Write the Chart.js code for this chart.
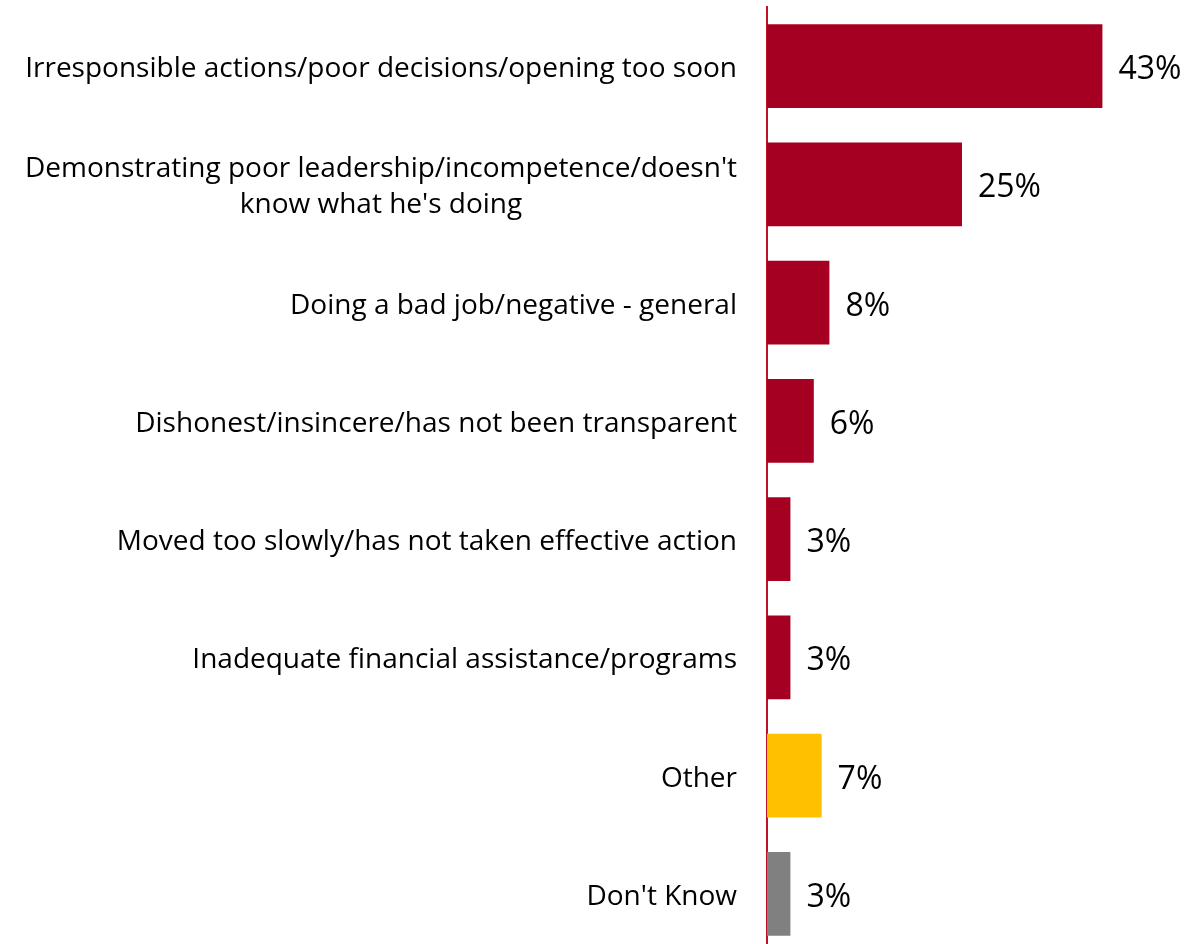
<!DOCTYPE html>
<html>
<head>
<meta charset="utf-8">
<title>Reasons for disapproval</title>
<script src="https://cdn.jsdelivr.net/npm/chart.js@4/dist/chart.umd.min.js"></script>
<style>
  html, body { margin: 0; padding: 0; background: #fff; overflow: hidden; }
  #wrap { width: 1196px; height: 944px; overflow: hidden; }
</style>
</head>
<body>
<div id="wrap"><canvas id="chart" width="1196" height="960"></canvas></div>
<script>
// answer categories (multi-line ones as arrays)
const categories = [
  "Irresponsible actions/poor decisions/opening too soon",
  ["Demonstrating poor leadership/incompetence/doesn't", "know what he's doing"],
  "Doing a bad job/negative - general",
  "Dishonest/insincere/has not been transparent",
  "Moved too slowly/has not taken effective action",
  "Inadequate financial assistance/programs",
  "Other",
  "Don't Know",
];
const percents = [43, 25, 8, 6, 3, 3, 7, 3];
const barColors = ["#A50021", "#A50021", "#A50021", "#A50021", "#A50021", "#A50021", "#FFC000", "#808080"];

const FONT = "'Open Sans', sans-serif";

// draws the category labels right-aligned as a block, lines centred within it
const categoryLabels = {
  id: "categoryLabels",
  afterDraw(chart) {
    const ctx = chart.ctx;
    const yScale = chart.scales.y;
    const right = chart.chartArea.left - 30;
    const lineH = 36;
    ctx.save();
    ctx.font = "28px " + FONT;
    ctx.fillStyle = "#000";
    ctx.textAlign = "center";
    ctx.textBaseline = "middle";
    categories.forEach((lab, i) => {
      const lines = Array.isArray(lab) ? lab : [lab];
      const w = Math.max(...lines.map(l => ctx.measureText(l).width));
      const cx = right - w / 2;
      const cy = yScale.getPixelForValue(i) + 3;
      lines.forEach((l, j) => {
        ctx.fillText(l, cx, cy + (j - (lines.length - 1) / 2) * lineH);
      });
    });
    ctx.restore();
  }
};

// percentage next to each bar
const valueLabels = {
  id: "valueLabels",
  afterDatasetsDraw(chart) {
    const ctx = chart.ctx;
    const meta = chart.getDatasetMeta(0);
    ctx.save();
    ctx.font = "32px " + FONT;
    ctx.fillStyle = "#000";
    ctx.textAlign = "left";
    ctx.textBaseline = "middle";
    meta.data.forEach((bar, i) => {
      ctx.fillText(percents[i] + "%", bar.x + 16, bar.y + 4);
    });
    ctx.restore();
  }
};

new Chart(document.getElementById("chart").getContext("2d"), {
  type: "bar",
  data: {
    labels: categories,
    datasets: [{
      data: percents,
      backgroundColor: barColors,
      borderWidth: 0,
      categoryPercentage: 1,
      barPercentage: 0.71,
    }],
  },
  options: {
    indexAxis: "y",
    responsive: false,
    devicePixelRatio: 1,
    animation: false,
    layout: { padding: { top: 7, bottom: 7, right: 39, left: 0 } },
    plugins: { legend: { display: false }, tooltip: { enabled: false } },
    scales: {
      x: {
        min: 0,
        max: 50,
        display: false,
      },
      y: {
        grid: { display: false, drawTicks: false },
        border: { display: true, color: "#C0102A", width: 2 },
        ticks: { display: false },
        afterFit(scale) { scale.width = 767; },
      },
    },
  },
  plugins: [categoryLabels, valueLabels],
});
</script>
</body>
</html>
